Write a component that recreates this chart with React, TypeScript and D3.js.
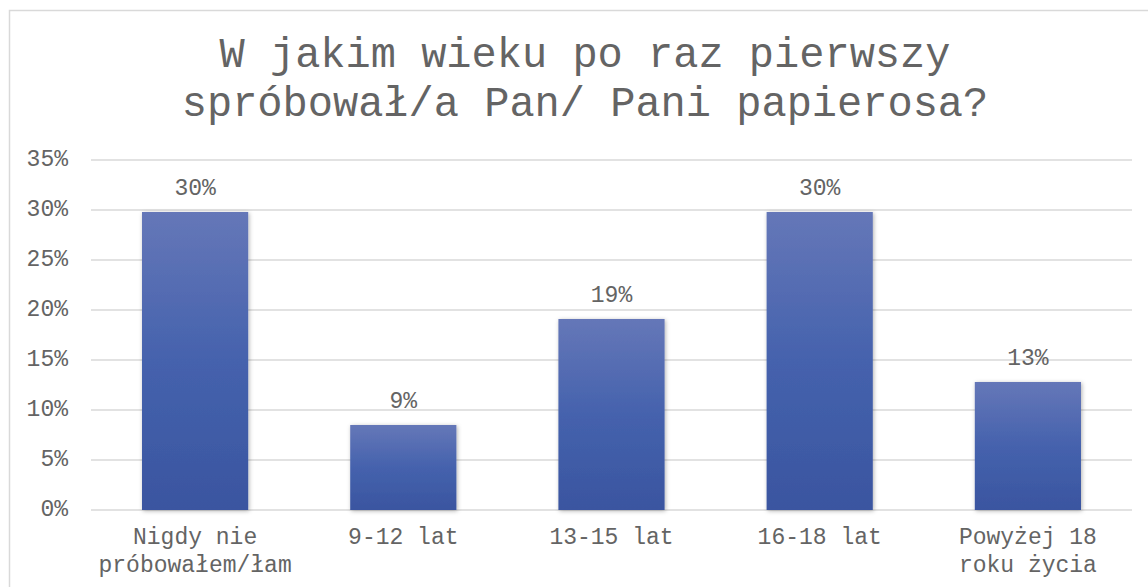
import React, { useEffect, useRef } from 'react'
import * as d3 from 'd3'

const categories = [['Nigdy nie', 'próbowałem/łam'], ['9-12 lat'], ['13-15 lat'], ['16-18 lat'], ['Powyżej 18', 'roku życia']]
const values = [0.298, 0.085, 0.191, 0.298, 0.128]
const valueLabels = ['30%', '9%', '19%', '30%', '13%']
const yTicks = [0, 0.05, 0.1, 0.15, 0.2, 0.25, 0.3, 0.35]
const titleLines = ['W jakim wieku po raz pierwszy', 'spróbował/a Pan/ Pani papierosa?']

const FONT = "'Courier New', 'Liberation Mono', monospace"
const TEXT = '#646464'
const GRID = '#d9d9d9'

export default function App() {
    const ref = useRef<SVGSVGElement>(null)

    useEffect(() => {
        const width = 1148, height = 587
        const svg = d3.select(ref.current)
        svg.selectAll('*').remove()
        svg.attr('width', width).attr('height', height)

        const defs = svg.append('defs')
        const grad = defs.append('linearGradient')
            .attr('id', 'barGrad')
            .attr('x1', 0).attr('y1', 0).attr('x2', 0).attr('y2', 1)
        grad.append('stop').attr('offset', '0%').attr('stop-color', '#6577b8')
        grad.append('stop').attr('offset', '50%').attr('stop-color', '#4562ad')
        grad.append('stop').attr('offset', '100%').attr('stop-color', '#3a55a0')
        const filt = defs.append('filter').attr('id', 'shadow')
            .attr('x', '-20%').attr('y', '-10%').attr('width', '140%').attr('height', '120%')
        filt.append('feDropShadow')
            .attr('dx', 1).attr('dy', 1).attr('stdDeviation', 2.2)
            .attr('flood-color', '#000').attr('flood-opacity', 0.3)

        svg.append('rect')
            .attr('width', width).attr('height', height).attr('fill', '#fff')

        // chart frame (right and bottom edges run off the picture)
        svg.append('rect')
            .attr('x', 9.5).attr('y', 10.5)
            .attr('width', 1200).attr('height', 700)
            .attr('fill', 'none').attr('stroke', GRID).attr('stroke-width', 1.5)

        // title
        svg.append('text')
            .attr('x', 585)
            .attr('text-anchor', 'middle')
            .attr('font-family', FONT)
            .attr('font-size', 42)
            .attr('fill', TEXT)
            .selectAll('tspan')
            .data(titleLines)
            .join('tspan')
            .attr('x', 585)
            .attr('y', (_, i) => 67 + i * 49)
            .text(d => d)

        const x = d3.scaleBand<number>()
            .domain(d3.range(values.length))
            .range([91, 1132])
            .paddingInner(0.49)
            .paddingOuter(0.245)
        const y = d3.scaleLinear()
            .domain([0, 0.35])
            .range([510, 160])

        // gridlines
        svg.append('g')
            .selectAll('line')
            .data(yTicks)
            .join('line')
            .attr('x1', 91).attr('x2', 1132)
            .attr('y1', d => y(d)).attr('y2', d => y(d))
            .attr('stroke', GRID)
            .attr('stroke-width', 1.5)

        // y tick labels
        svg.append('g')
            .selectAll('text')
            .data(yTicks)
            .join('text')
            .attr('x', 68)
            .attr('y', d => y(d) + 6)
            .attr('text-anchor', 'end')
            .attr('font-family', FONT)
            .attr('font-size', 23)
            .attr('fill', TEXT)
            .text(d => d3.format('.0%')(d))

        // bars
        svg.append('g')
            .selectAll('rect')
            .data(values)
            .join('rect')
            .attr('x', (_, i) => x(i)!)
            .attr('width', x.bandwidth())
            .attr('y', d => y(d))
            .attr('height', d => y(0) - y(d))
            .attr('fill', 'url(#barGrad)')
            .attr('filter', 'url(#shadow)')

        // value labels
        svg.append('g')
            .selectAll('text')
            .data(values)
            .join('text')
            .attr('x', (_, i) => x(i)! + x.bandwidth() / 2)
            .attr('y', d => y(d) - 17)
            .attr('text-anchor', 'middle')
            .attr('font-family', FONT)
            .attr('font-size', 23)
            .attr('fill', TEXT)
            .text((_, i) => valueLabels[i])

        // category labels
        const cat = svg.append('g')
            .selectAll('text')
            .data(categories)
            .join('text')
            .attr('text-anchor', 'middle')
            .attr('font-family', FONT)
            .attr('font-size', 23)
            .attr('fill', TEXT)
        cat.selectAll('tspan')
            .data((d, i) => d.map(line => ({ line, i })))
            .join('tspan')
            .attr('x', d => x(d.i)! + x.bandwidth() / 2)
            .attr('y', (_, j) => 544 + j * 28)
            .text(d => d.line)
    }, [])

    return <svg ref={ref} style={{ position: 'absolute', left: 0, top: 0 }}></svg>
}
